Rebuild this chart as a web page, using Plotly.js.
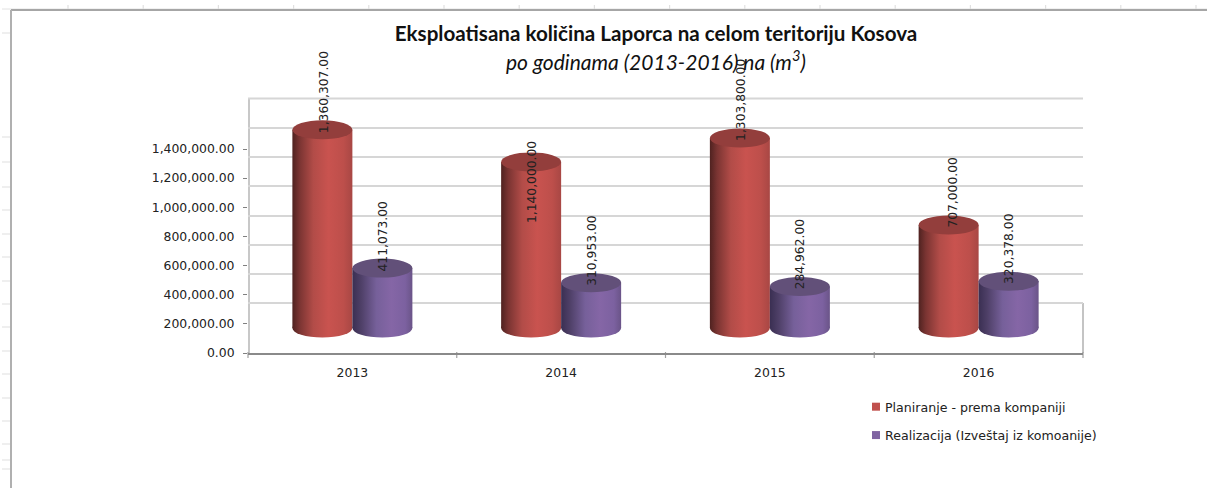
<!DOCTYPE html>
<html><head><meta charset="utf-8">
<script src="https://cdn.plot.ly/plotly-3.0.1.min.js"></script>
<style>html,body{margin:0;padding:0;background:#fff;overflow:hidden}</style></head>
<body><div id="chart" style="width:1207px;height:488px"></div>
<script>
const categories = ['2013','2014','2015','2016'];
const planned = [1360307,1140000,1303800,707000];
const realized = [411073,310953,284962,320378];
const seriesNames = ['Planiranje - prema kompaniji','Realizacija (Izveštaj iz komoanije)'];
const yTicks = [0,200000,400000,600000,800000,1000000,1200000,1400000];
const chartTitle = 'Eksploatisana količina Laporca na celom teritoriju Kosova';
const chartSubtitle = 'po godinama (2013-2016) na (m<sup>3</sup>)';

// plot frame in pixels
const L=248,R=1083,T=98,B=353,W=1207,H=488;
const pxPerUnit = 204/1400000;
const gridLift = 50, barLift = 25;
const px = p => (p-L)/(R-L), py = p => (B-p)/(B-T);
const toData = pixels => pixels/pxPerUnit;
const barW = 60/((R-L)/4), ry = 9.5;
const font = 'DejaVu Sans, sans-serif';
const slot = i => i; // category index on the numeric x axis

const shapes = [], annotations = [], gradientTargets = [];
// spreadsheet frame behind the chart
const paperLine = (x0,y0,x1,y1,color,width)=>({type:'line',xref:'paper',yref:'paper',layer:'below',
  x0:px(x0),x1:px(x1),y0:py(y0),y1:py(y1),line:{color,width}});
[33,137,162,187,210,234,257,281,304,327,351,374,398,421,444,460,469].forEach(y=>shapes.push(paperLine(2,y,11,y,'#e4e4e4',1.2)));
for(let x=68;x<1207;x+=75.2) shapes.push(paperLine(x,5,x,9,'#e0e0e0',1.2));
shapes.push(paperLine(2,9,1207,9,'#e2e2e2',1));
shapes.push(paperLine(11,10,1207,10,'#a6a6a6',2));
shapes.push(paperLine(11,10,11,488,'#b0b0b0',2));
shapes.push(paperLine(R,B-gridLift,R,B,'#c4c4c4',2));
shapes.push(paperLine(L+1,T,L+1,B,'#c8c8c8',2));
shapes.push(paperLine(L,T+0.5,R,T+0.5,'#d6d6d6',2));
[0,1,2,3,4].forEach(k=>shapes.push(paperLine(L+k*(R-L)/4,B-1,L+k*(R-L)/4,B+5,'#a0a0a0',1.2)));

const labelDrop = {'0-1':58};
const labelNudge = {'0-3':3};
function addCylinders(values,offset,gradient,topColor,si){
  values.forEach((v,i)=>{
    const x0=slot(i)+offset-barW/2,x1=slot(i)+offset+barW/2;
    gradientTargets.push([shapes.length,gradient]);
    shapes.push({type:'circle',xref:'x',yref:'y3',layer:'below',x0,x1,
      y0:-toData(ry),y1:toData(ry),fillcolor:gradient==='gr'?'#b04a46':'#74598f',line:{width:0}});
    shapes.push({type:'circle',xref:'x',yref:'y3',layer:'above',x0,x1,
      y0:v-toData(ry),y1:v+toData(ry),fillcolor:topColor,line:{width:0}});
    annotations.push({xref:'x',yref:'y3',x:slot(i)+offset,y:v,text:v.toLocaleString('en-US',{minimumFractionDigits:2}),
      textangle:-90,showarrow:false,yanchor:'bottom',xanchor:'center',xshift:1+(labelNudge[si+'-'+i]||0),
      yshift:-(5+(labelDrop[si+'-'+i]||0)),font:{family:font,size:12.3,color:'#222'}});
  });
}
addCylinders(planned,-barW/2,'gr','#933e3c',0);
addCylinders(realized,barW/2,'gp','#625079',1);
annotations.push({xref:'paper',yref:'paper',x:px(656),y:py(59.5),text:'<i>'+chartSubtitle+'</i>',showarrow:false,
  xanchor:'center',yanchor:'middle',font:{family:'Lato, sans-serif',size:21,color:'#111'}});

const xSlots = categories.map((c,i)=>slot(i));
const traces=[
 {type:'scatter',mode:'none',x:xSlots,y:planned,yaxis:'y',showlegend:false,hoverinfo:'skip'},
 {type:'scatter',mode:'none',x:xSlots,y:planned,yaxis:'y2',showlegend:false,hoverinfo:'skip'},
 {type:'bar',x:xSlots,y:planned,name:seriesNames[0],yaxis:'y3',marker:{color:'#c0504d',line:{width:0}},legendgroup:'a'},
 {type:'bar',x:xSlots,y:realized,name:seriesNames[1],yaxis:'y3',marker:{color:'#8064a2',line:{width:0}},legendgroup:'b'}
];
const axisFont={family:font,size:12.4,color:'#222'};
const layout={
  width:W,height:H,paper_bgcolor:'#fff',plot_bgcolor:'rgba(0,0,0,0)',
  margin:{l:L,r:W-R,t:T,b:H-B,autoexpand:false},
  barmode:'group',bargap:1-2*barW,bargroupgap:0,
  title:{text:'<b>'+chartTitle+'</b>',xref:'container',yref:'container',x:656/W,y:1-34/H,xanchor:'center',yanchor:'middle',
    font:{family:'Lato, sans-serif',size:20.6,color:'#111'}},
  xaxis:{type:'linear',range:[-0.5,3.5],tickvals:xSlots,ticktext:categories,showgrid:false,zeroline:false,
    showline:true,linecolor:'#8a8a8a',linewidth:2,ticks:'outside',ticklen:7,tickcolor:'rgba(0,0,0,0)',tickfont:axisFont,anchor:'y'},
  yaxis:{range:[0,(B-T)/pxPerUnit],tickvals:yTicks,tickformat:',.2f',showgrid:false,zeroline:false,
    showline:false,ticks:'outside',ticklen:4,tickcolor:'#808080',tickfont:axisFont,ticklabelstandoff:6,anchor:'x'},
  yaxis2:{overlaying:'y',range:[-gridLift/pxPerUnit,(B-T-gridLift)/pxPerUnit],tickvals:yTicks,showticklabels:false,showgrid:true,
    gridcolor:'#d6d6d6',gridwidth:2,zeroline:false,showline:false,ticks:'',anchor:'x'},
  yaxis3:{overlaying:'y',range:[-barLift/pxPerUnit,(B-T-barLift)/pxPerUnit],visible:false,anchor:'x'},
  showlegend:true,
  legend:{x:px(856),y:py(392),xanchor:'left',yanchor:'top',traceorder:'grouped',tracegroupgap:9,bgcolor:'rgba(0,0,0,0)',
    font:{family:font,size:12.6,color:'#222'}},
  shapes,annotations
};

Plotly.newPlot('chart',traces,layout,{displayModeBar:false,responsive:false}).then(gd=>{
  const svg=gd.querySelector('svg.main-svg');
  const ns='http://www.w3.org/2000/svg';
  const defs=document.createElementNS(ns,'defs');
  const grad=(id,stops)=>{const g=document.createElementNS(ns,'linearGradient');g.setAttribute('id',id);
    g.setAttribute('x1','0');g.setAttribute('x2','1');g.setAttribute('y1','0');g.setAttribute('y2','0');
    stops.forEach(([o,c])=>{const s=document.createElementNS(ns,'stop');s.setAttribute('offset',o);s.setAttribute('stop-color',c);g.appendChild(s);});
    defs.appendChild(g);};
  grad('gr',[[0,'#4f2220'],[.12,'#7a3432'],[.35,'#b24c48'],[.6,'#c9534f'],[.85,'#bd4f4b'],[1,'#a84744']]);
  grad('gp',[[0,'#3a2f52'],[.15,'#4f4068'],[.4,'#76609a'],[.65,'#8566a6'],[.88,'#7c61a0'],[1,'#6a5488']]);
  svg.insertBefore(defs,svg.firstChild);
  gd.querySelectorAll('.trace.bars').forEach((t,i)=>t.querySelectorAll('path').forEach(p=>{p.style.fill=`url(#${i?'gp':'gr'})`;}));
  gradientTargets.forEach(([idx,g])=>{gd.querySelectorAll(`.shapelayer path[data-index="${idx}"]`).forEach(p=>{p.style.fill=`url(#${g})`;});});
  // tighter legend keys, as in the reference
  gd.querySelectorAll('.legend .legendpoints path').forEach(p=>{p.setAttribute('d','M4,4H-4V-4H4Z');});
  gd.querySelectorAll('.legend .legendtext').forEach(t=>{t.setAttribute('x',+t.getAttribute('x')-11);
    t.querySelectorAll('tspan').forEach(s=>{if(s.getAttribute('x'))s.setAttribute('x',+s.getAttribute('x')-11);});});
});
</script></body></html>
